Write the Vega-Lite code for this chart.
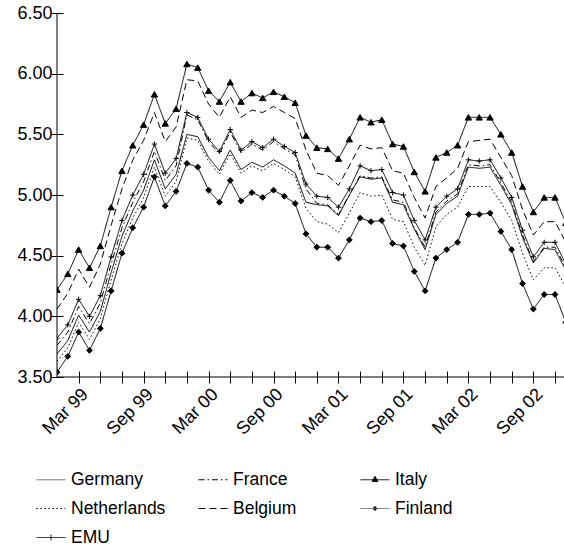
{
  "$schema": "https://vega.github.io/schema/vega-lite/v6.json",
  "width": 507,
  "height": 364,
  "autosize": "none",
  "padding": {"left": 57, "top": 13, "right": 0, "bottom": 169},
  "background": "white",
  "config": {
    "view": {"stroke": null},
    "font": "Liberation Sans",
    "axis": {"labelFont": "Liberation Sans", "labelFontSize": 18, "labelColor": "black", "tickColor": "black", "tickWidth": 1, "grid": false, "domain": false, "title": null, "labelOverlap": false, "labelFlush": false, "labelBound": false}
  },
  "datasets": {
    "yields": [
      {"m": 0, "Germany": 3.69, "France": 3.76, "Italy": 4.22, "Netherlands": 3.63, "Belgium": 4.06, "Finland": 3.54, "EMU": 3.82},
      {"m": 1, "Germany": 3.80, "France": 3.87, "Italy": 4.35, "Netherlands": 3.74, "Belgium": 4.19, "Finland": 3.67, "EMU": 3.93},
      {"m": 2, "Germany": 4.01, "France": 4.08, "Italy": 4.55, "Netherlands": 3.95, "Belgium": 4.39, "Finland": 3.87, "EMU": 4.14},
      {"m": 3, "Germany": 3.87, "France": 3.94, "Italy": 4.40, "Netherlands": 3.81, "Belgium": 4.24, "Finland": 3.72, "EMU": 4.00},
      {"m": 4, "Germany": 4.04, "France": 4.11, "Italy": 4.58, "Netherlands": 3.98, "Belgium": 4.43, "Finland": 3.90, "EMU": 4.17},
      {"m": 5, "Germany": 4.36, "France": 4.43, "Italy": 4.90, "Netherlands": 4.30, "Belgium": 4.75, "Finland": 4.21, "EMU": 4.49},
      {"m": 6, "Germany": 4.66, "France": 4.73, "Italy": 5.20, "Netherlands": 4.60, "Belgium": 5.05, "Finland": 4.52, "EMU": 4.79},
      {"m": 7, "Germany": 4.87, "France": 4.94, "Italy": 5.41, "Netherlands": 4.81, "Belgium": 5.29, "Finland": 4.73, "EMU": 5.00},
      {"m": 8, "Germany": 5.04, "France": 5.11, "Italy": 5.58, "Netherlands": 4.98, "Belgium": 5.45, "Finland": 4.90, "EMU": 5.17},
      {"m": 9, "Germany": 5.29, "France": 5.36, "Italy": 5.83, "Netherlands": 5.23, "Belgium": 5.68, "Finland": 5.15, "EMU": 5.42},
      {"m": 10, "Germany": 5.05, "France": 5.12, "Italy": 5.59, "Netherlands": 4.99, "Belgium": 5.44, "Finland": 4.91, "EMU": 5.18},
      {"m": 11, "Germany": 5.17, "France": 5.24, "Italy": 5.71, "Netherlands": 5.11, "Belgium": 5.56, "Finland": 5.03, "EMU": 5.30},
      {"m": 12, "Germany": 5.50, "France": 5.66, "Italy": 6.08, "Netherlands": 5.47, "Belgium": 5.95, "Finland": 5.26, "EMU": 5.68},
      {"m": 13, "Germany": 5.48, "France": 5.62, "Italy": 6.05, "Netherlands": 5.45, "Belgium": 5.94, "Finland": 5.23, "EMU": 5.64},
      {"m": 14, "Germany": 5.31, "France": 5.44, "Italy": 5.86, "Netherlands": 5.28, "Belgium": 5.75, "Finland": 5.04, "EMU": 5.46},
      {"m": 15, "Germany": 5.20, "France": 5.34, "Italy": 5.77, "Netherlands": 5.17, "Belgium": 5.64, "Finland": 4.94, "EMU": 5.36},
      {"m": 16, "Germany": 5.37, "France": 5.52, "Italy": 5.93, "Netherlands": 5.34, "Belgium": 5.81, "Finland": 5.12, "EMU": 5.54},
      {"m": 17, "Germany": 5.21, "France": 5.35, "Italy": 5.77, "Netherlands": 5.18, "Belgium": 5.64, "Finland": 4.95, "EMU": 5.37},
      {"m": 18, "Germany": 5.27, "France": 5.42, "Italy": 5.84, "Netherlands": 5.24, "Belgium": 5.70, "Finland": 5.02, "EMU": 5.44},
      {"m": 19, "Germany": 5.23, "France": 5.37, "Italy": 5.80, "Netherlands": 5.20, "Belgium": 5.68, "Finland": 4.98, "EMU": 5.39},
      {"m": 20, "Germany": 5.29, "France": 5.44, "Italy": 5.85, "Netherlands": 5.26, "Belgium": 5.73, "Finland": 5.04, "EMU": 5.46},
      {"m": 21, "Germany": 5.24, "France": 5.38, "Italy": 5.81, "Netherlands": 5.21, "Belgium": 5.68, "Finland": 4.99, "EMU": 5.40},
      {"m": 22, "Germany": 5.18, "France": 5.33, "Italy": 5.76, "Netherlands": 5.15, "Belgium": 5.63, "Finland": 4.93, "EMU": 5.35},
      {"m": 23, "Germany": 4.94, "France": 5.05, "Italy": 5.49, "Netherlands": 4.89, "Belgium": 5.37, "Finland": 4.68, "EMU": 5.09},
      {"m": 24, "Germany": 4.92, "France": 4.93, "Italy": 5.39, "Netherlands": 4.78, "Belgium": 5.18, "Finland": 4.57, "EMU": 4.99},
      {"m": 25, "Germany": 4.91, "France": 4.92, "Italy": 5.38, "Netherlands": 4.76, "Belgium": 5.16, "Finland": 4.57, "EMU": 4.98},
      {"m": 26, "Germany": 4.83, "France": 4.84, "Italy": 5.30, "Netherlands": 4.69, "Belgium": 5.08, "Finland": 4.48, "EMU": 4.90},
      {"m": 27, "Germany": 5.00, "France": 5.00, "Italy": 5.46, "Netherlands": 4.85, "Belgium": 5.24, "Finland": 4.63, "EMU": 5.05},
      {"m": 28, "Germany": 5.15, "France": 5.16, "Italy": 5.64, "Netherlands": 5.02, "Belgium": 5.41, "Finland": 4.81, "EMU": 5.24},
      {"m": 29, "Germany": 5.13, "France": 5.14, "Italy": 5.60, "Netherlands": 4.99, "Belgium": 5.38, "Finland": 4.78, "EMU": 5.20},
      {"m": 30, "Germany": 5.14, "France": 5.15, "Italy": 5.62, "Netherlands": 5.00, "Belgium": 5.39, "Finland": 4.79, "EMU": 5.21},
      {"m": 31, "Germany": 4.94, "France": 4.96, "Italy": 5.42, "Netherlands": 4.80, "Belgium": 5.20, "Finland": 4.60, "EMU": 5.02},
      {"m": 32, "Germany": 4.92, "France": 4.94, "Italy": 5.40, "Netherlands": 4.78, "Belgium": 5.18, "Finland": 4.58, "EMU": 5.00},
      {"m": 33, "Germany": 4.72, "France": 4.73, "Italy": 5.19, "Netherlands": 4.57, "Belgium": 4.98, "Finland": 4.37, "EMU": 4.79},
      {"m": 34, "Germany": 4.55, "France": 4.57, "Italy": 5.03, "Netherlands": 4.42, "Belgium": 4.81, "Finland": 4.21, "EMU": 4.63},
      {"m": 35, "Germany": 4.84, "France": 4.86, "Italy": 5.31, "Netherlands": 4.74, "Belgium": 5.07, "Finland": 4.48, "EMU": 4.90},
      {"m": 36, "Germany": 4.93, "France": 4.95, "Italy": 5.35, "Netherlands": 4.84, "Belgium": 5.14, "Finland": 4.55, "EMU": 4.99},
      {"m": 37, "Germany": 4.99, "France": 5.01, "Italy": 5.41, "Netherlands": 4.90, "Belgium": 5.22, "Finland": 4.61, "EMU": 5.05},
      {"m": 38, "Germany": 5.23, "France": 5.25, "Italy": 5.64, "Netherlands": 5.07, "Belgium": 5.44, "Finland": 4.84, "EMU": 5.29},
      {"m": 39, "Germany": 5.22, "France": 5.24, "Italy": 5.64, "Netherlands": 5.07, "Belgium": 5.45, "Finland": 4.84, "EMU": 5.28},
      {"m": 40, "Germany": 5.23, "France": 5.25, "Italy": 5.64, "Netherlands": 5.07, "Belgium": 5.46, "Finland": 4.85, "EMU": 5.29},
      {"m": 41, "Germany": 5.08, "France": 5.10, "Italy": 5.50, "Netherlands": 4.94, "Belgium": 5.31, "Finland": 4.70, "EMU": 5.14},
      {"m": 42, "Germany": 4.92, "France": 4.94, "Italy": 5.35, "Netherlands": 4.79, "Belgium": 5.16, "Finland": 4.55, "EMU": 4.98},
      {"m": 43, "Germany": 4.65, "France": 4.67, "Italy": 5.07, "Netherlands": 4.52, "Belgium": 4.88, "Finland": 4.27, "EMU": 4.71},
      {"m": 44, "Germany": 4.44, "France": 4.45, "Italy": 4.86, "Netherlands": 4.30, "Belgium": 4.67, "Finland": 4.06, "EMU": 4.49},
      {"m": 45, "Germany": 4.56, "France": 4.57, "Italy": 4.98, "Netherlands": 4.40, "Belgium": 4.78, "Finland": 4.18, "EMU": 4.61},
      {"m": 46, "Germany": 4.55, "France": 4.57, "Italy": 4.98, "Netherlands": 4.40, "Belgium": 4.78, "Finland": 4.18, "EMU": 4.61},
      {"m": 47, "Germany": 4.38, "France": 4.40, "Italy": 4.77, "Netherlands": 4.24, "Belgium": 4.61, "Finland": 3.95, "EMU": 4.43}
    ],
    "axisline": [{"line": "axis"}]
  },
  "layer": [
    {
      "data": {"name": "axisline"},
      "mark": {"type": "rule", "color": "black", "strokeWidth": 1},
      "encoding": {
        "y": {
          "datum": 3.5, "type": "quantitative",
          "scale": {"domain": [3.5, 6.5], "nice": false, "zero": false},
          "axis": {
            "values": [3.5, 4, 4.5, 5, 5.5, 6, 6.5],
            "format": ".2f", "labelPadding": -1, "tickSize": 12, "offset": -6,
            "labelOverlap": false, "labelFlush": false, "labelBound": false
          }
        },
        "x": {
          "datum": 0, "type": "quantitative",
          "scale": {"domain": [0, 46.83], "nice": false, "zero": false},
          "axis": {
            "values": [2, 4, 6, 8, 10, 12, 14, 16, 18, 20, 22, 24, 26, 28, 30, 32, 34, 36, 38, 40, 42, 44, 46],
            "labelExpr": "datum.value % 6 == 2 ? (datum.value % 12 == 2 ? 'Mar ' : 'Sep ') + (datum.value < 12 ? '99' : '0' + (floor(datum.value / 12) - 1)) : ''",
            "labelAngle": -45, "labelAlign": "right", "labelBaseline": "top", "labelPadding": 2,
            "labelOverlap": false, "labelFlush": false, "labelBound": false,
            "tickSize": 12, "offset": -6
          }
        },
        "x2": {"datum": 46.83}
      }
    },
    {
      "data": {"name": "axisline"},
      "mark": {"type": "rule", "color": "black", "strokeWidth": 1},
      "encoding": {
        "x": {
          "datum": 0, "type": "quantitative",
          "scale": {"domain": [0, 46.83], "nice": false, "zero": false},
          "axis": {
            "values": [2, 4, 6, 8, 10, 12, 14, 16, 18, 20, 22, 24, 26, 28, 30, 32, 34, 36, 38, 40, 42, 44, 46],
            "labelExpr": "datum.value % 6 == 2 ? (datum.value % 12 == 2 ? 'Mar ' : 'Sep ') + (datum.value < 12 ? '99' : '0' + (floor(datum.value / 12) - 1)) : ''",
            "labelAngle": -45, "labelAlign": "right", "labelBaseline": "top", "labelPadding": 2,
            "labelOverlap": false, "labelFlush": false, "labelBound": false,
            "tickSize": 12, "offset": -6
          }
        },
        "y": {
          "datum": 3.5, "type": "quantitative",
          "scale": {"domain": [3.5, 6.5], "nice": false, "zero": false},
          "axis": {
            "values": [3.5, 4, 4.5, 5, 5.5, 6, 6.5],
            "format": ".2f", "labelPadding": -1, "tickSize": 12, "offset": -6,
            "labelOverlap": false, "labelFlush": false, "labelBound": false
          }
        },
        "y2": {"datum": 6.5}
      }
    },
    {
      "data": {"name": "yields"},
      "transform": [
        {"fold": ["Germany", "France", "Italy", "Netherlands", "Belgium", "Finland", "EMU"], "as": ["country", "yield"]}
      ],
      "mark": {"type": "line", "color": "black", "strokeWidth": 1, "clip": true},
      "encoding": {
        "x": {
          "field": "m", "type": "quantitative",
          "scale": {"domain": [0, 46.83], "nice": false, "zero": false},
          "axis": {
            "values": [2, 4, 6, 8, 10, 12, 14, 16, 18, 20, 22, 24, 26, 28, 30, 32, 34, 36, 38, 40, 42, 44, 46],
            "labelExpr": "datum.value % 6 == 2 ? (datum.value % 12 == 2 ? 'Mar ' : 'Sep ') + (datum.value < 12 ? '99' : '0' + (floor(datum.value / 12) - 1)) : ''",
            "labelAngle": -45, "labelAlign": "right", "labelBaseline": "top", "labelPadding": 2,
            "labelOverlap": false, "labelFlush": false, "labelBound": false,
            "tickSize": 12, "offset": -6
          }
        },
        "y": {
          "field": "yield", "type": "quantitative",
          "scale": {"domain": [3.5, 6.5], "nice": false, "zero": false},
          "axis": {
            "values": [3.5, 4, 4.5, 5, 5.5, 6, 6.5],
            "format": ".2f", "labelPadding": -1, "tickSize": 12, "offset": -6,
            "labelOverlap": false, "labelFlush": false, "labelBound": false
          }
        },
        "strokeDash": {
          "field": "country", "type": "nominal",
          "scale": {
            "domain": ["Germany", "France", "Italy", "Netherlands", "Belgium", "Finland", "EMU"],
            "range": [[1, 0], [6, 3, 1.5, 3], [1, 0], [1.5, 2.5], [7, 4], [1, 0], [1, 0]]
          },
          "legend": {
            "title": null, "orient": "none", "legendX": -21, "legendY": 451.5, "direction": "horizontal",
            "columns": 3, "gridAlign": "all", "columnPadding": 30, "rowPadding": 5,
            "padding": 0, "symbolSize": 841, "symbolStrokeWidth": 1, "symbolStrokeColor": "black",
            "labelFont": "Liberation Sans", "labelFontSize": 17.5, "labelColor": "black", "labelOffset": 5, "labelLimit": 200,
            "encode": {
              "symbols": {
                "update": {
                  "shape": {"signal": "datum.value === 'Italy' ? 'M-1,0H1M0,-0.24L0.2,0.12L-0.2,0.12Z' : datum.value === 'Finland' ? 'M-1,0H1M0,-0.17L0.15,0L0,0.17L-0.15,0Z' : datum.value === 'EMU' ? 'M-1,0H1M0,-0.2V0.2' : 'M-1,0H1'"},
                  "fill": {"value": "black"},
                  "stroke": {"signal": "datum.value === 'Germany' || datum.value === 'Finland' ? '#666666' : 'black'"}
                }
              }
            }
          }
        }
      }
    },
    {
      "data": {"name": "yields"},
      "transform": [
        {"fold": ["Italy", "Finland", "EMU"], "as": ["country", "yield"]}
      ],
      "mark": {"type": "point", "filled": true, "fill": "black", "stroke": "black", "strokeWidth": 1, "opacity": 1, "clip": true},
      "encoding": {
        "x": {
          "field": "m", "type": "quantitative",
          "scale": {"domain": [0, 46.83], "nice": false, "zero": false},
          "axis": {
            "values": [2, 4, 6, 8, 10, 12, 14, 16, 18, 20, 22, 24, 26, 28, 30, 32, 34, 36, 38, 40, 42, 44, 46],
            "labelExpr": "datum.value % 6 == 2 ? (datum.value % 12 == 2 ? 'Mar ' : 'Sep ') + (datum.value < 12 ? '99' : '0' + (floor(datum.value / 12) - 1)) : ''",
            "labelAngle": -45, "labelAlign": "right", "labelBaseline": "top", "labelPadding": 2,
            "labelOverlap": false, "labelFlush": false, "labelBound": false,
            "tickSize": 12, "offset": -6
          }
        },
        "y": {
          "field": "yield", "type": "quantitative",
          "scale": {"domain": [3.5, 6.5], "nice": false, "zero": false},
          "axis": {
            "values": [3.5, 4, 4.5, 5, 5.5, 6, 6.5],
            "format": ".2f", "labelPadding": -1, "tickSize": 12, "offset": -6,
            "labelOverlap": false, "labelFlush": false, "labelBound": false
          }
        },
        "shape": {
          "field": "country", "type": "nominal",
          "scale": {"domain": ["Italy", "Finland", "EMU"], "range": ["triangle-up", "diamond", "M-1,0H1M0,-1V1"]},
          "legend": null
        },
        "size": {
          "field": "country", "type": "nominal",
          "scale": {"domain": ["Italy", "Finland", "EMU"], "range": [40, 28, 60]},
          "legend": null
        }
      }
    }
  ]
}
